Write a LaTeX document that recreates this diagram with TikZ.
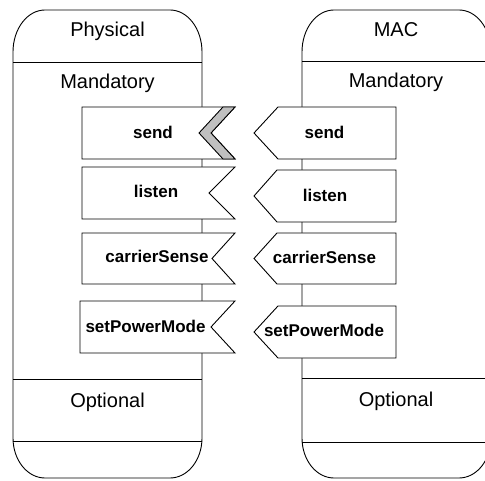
\documentclass[tikz,border=0pt]{standalone}
\usepackage{fontspec}
\setmainfont{Liberation Sans}
\definecolor{chevgray}{HTML}{C0C0C0}
\begin{document}
\begin{tikzpicture}[x=1pt,y=-1pt,line width=0.9pt,line join=miter,
  comp/.style={draw=black,fill=white},
  flagbox/.style={draw=black,fill=white},
  chev/.style={draw=black,fill=chevgray},
  title/.style={font=\fontsize{20}{22}\selectfont,inner sep=0pt,anchor=base},
  lbl/.style={font=\fontsize{17}{19}\selectfont\bfseries,inner sep=0pt,anchor=base}]
\useasboundingbox (0,0) rectangle (485,481);
\clip (0,0) rectangle (485,481);
% Physical component
\draw[comp] (13,52) arc[start angle=180,end angle=270,x radius=32,y radius=42]
  -- (170,10) arc[start angle=270,end angle=360,x radius=32,y radius=42]
  -- (202,438) arc[start angle=0,end angle=90,x radius=32,y radius=40]
  -- (45,478) arc[start angle=90,end angle=180,x radius=32,y radius=40] -- cycle;
\draw (13,62) -- (202,62);
\draw (13,379) -- (202,379);
\draw (13,441) -- (202,441);
% MAC component
\draw[comp] (302,52) arc[start angle=180,end angle=270,x radius=32,y radius=42]
  -- (459,10) arc[start angle=270,end angle=360,x radius=32,y radius=42]
  -- (491,438) arc[start angle=0,end angle=90,x radius=32,y radius=40]
  -- (334,478) arc[start angle=90,end angle=180,x radius=32,y radius=40] -- cycle;
\draw (302,61) -- (491,61);
\draw (302,378) -- (491,378);
\draw (302,442) -- (491,442);
% titles
\node[title] (phys) at (107.5,37) {Physical};
\node[title] (pmand) at (107.5,89) {Mandatory};
\node[title] (popt) at (107.5,407) {Optional};
\node[title] (mac) at (396,37) {MAC};
\node[title] (mmand) at (396,88) {Mandatory};
\node[title] (mopt) at (396,406.5) {Optional};
% left (provided) flags
\draw[flagbox] (82,107) -- (235,107) -- (211,133) -- (235,159) -- (82,159) -- cycle;
\draw[chev] (223,107) -- (235,107) -- (211,133) -- (235,159) -- (223,159) -- (199,133) -- cycle;
\draw[flagbox] (82,167) -- (235,167) -- (209,193) -- (235,219) -- (82,219) -- cycle;
\draw[flagbox] (82,233) -- (235,233) -- (212,258.5) -- (235,284) -- (82,284) -- cycle;
\draw[flagbox] (80,301) -- (235,301) -- (211,327) -- (235,353) -- (80,353) -- cycle;
% right (required) flags
\draw[flagbox] (254,133) -- (278,107) -- (396,107) -- (396,159) -- (278,159) -- cycle;
\draw[flagbox] (254,196) -- (277,170) -- (396,170) -- (396,222) -- (277,222) -- cycle;
\draw[flagbox] (254,258.5) -- (277,233) -- (396,233) -- (396,284) -- (277,284) -- cycle;
\draw[flagbox] (254,332) -- (278,306) -- (396,306) -- (396,358) -- (278,358) -- cycle;
% labels
\node[lbl] (psend) at (153,139) {send};
\node[lbl] (plisten) at (156,198) {listen};
\node[lbl] (pcs) at (157,263) {carrierSense};
\node[lbl] (ppm) at (145.5,332) {setPowerMode};
\node[lbl] (msend) at (324.5,139) {send};
\node[lbl] (mlisten) at (325,202) {listen};
\node[lbl] (mcs) at (324.5,264) {carrierSense};
\node[lbl] (mpm) at (324,337) {setPowerMode};
\end{tikzpicture}
\end{document}
